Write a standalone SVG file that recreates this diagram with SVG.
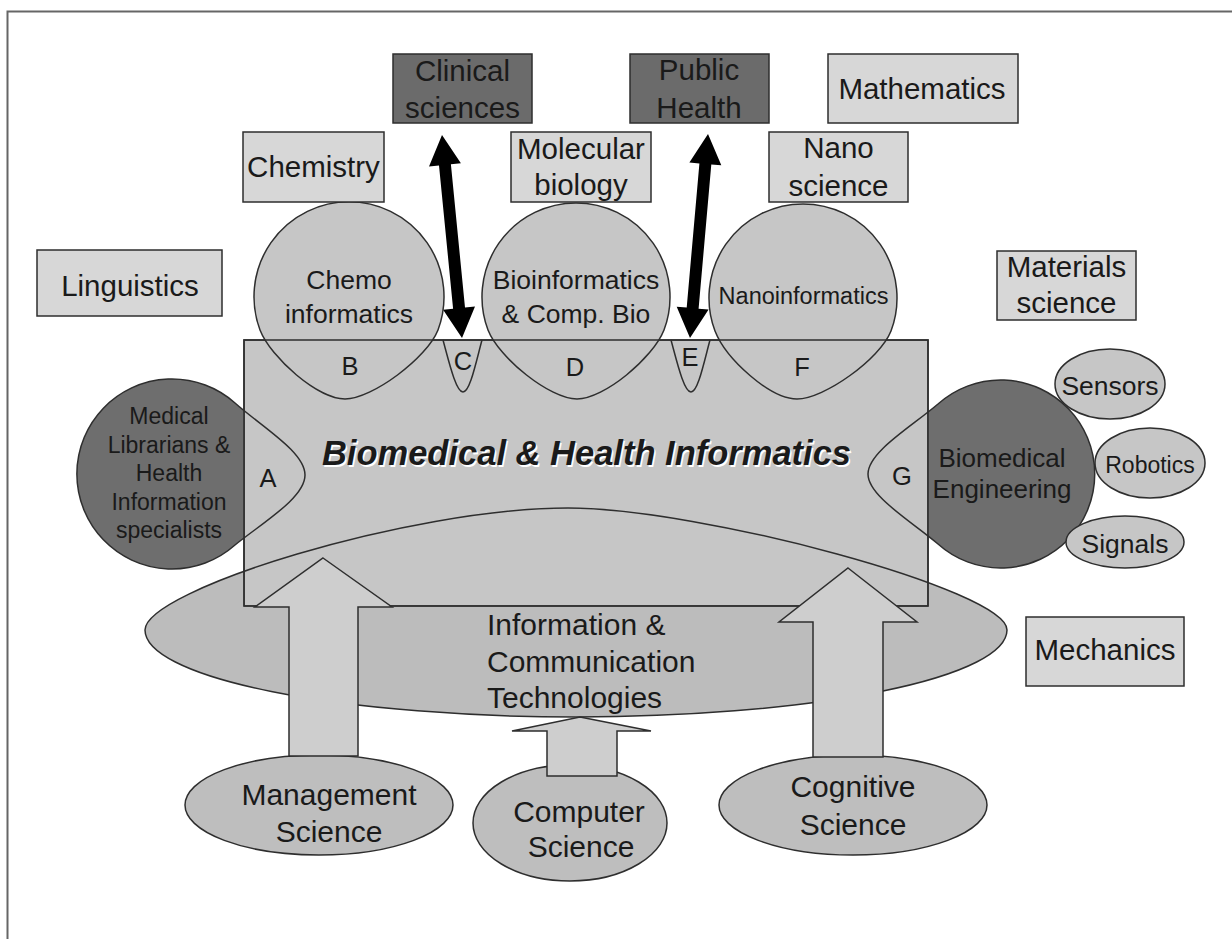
<svg xmlns="http://www.w3.org/2000/svg" width="1232" height="939" viewBox="0 0 1232 939">
<style>
text{font-family:"Liberation Sans",Arial,sans-serif;fill:#1a1a1a;text-anchor:middle}
.ln{fill:none;stroke:#2e2e2e;stroke-width:1.5}
.box{fill:#d7d7d7;stroke:#2e2e2e;stroke-width:1.5}
.dbox{fill:#6b6b6b;stroke:#2e2e2e;stroke-width:1.5}
.lt{fill:#c6c6c6;stroke:#2e2e2e;stroke-width:1.5}
.dkf{fill:#6e6e6e}
.ictf{fill:#bcbcbc}
.ell{fill:#bebebe;stroke:#2e2e2e;stroke-width:1.5}
.upa{fill:#cecece;stroke:#2e2e2e;stroke-width:1.5}
.blk{fill:#000}
.fb{font-size:29.5px}
.fe{font-size:30px}
.fc{font-size:26.5px}
.fl{font-size:25.5px}
.ttl{font-size:34.5px;font-weight:bold;font-style:italic}
</style>
<defs>
<clipPath id="outside"><path clip-rule="evenodd" d="M0 0H1232V939H0Z M243 339H929V607H243Z"/></clipPath>
<path id="ictShape" d="M145 630 C145 590 410 508 568 508 C700 508 1007 590 1007 630 A431 87 0 0 1 145 630 Z"/>
<path id="medShape" d="M235 403 C262 427 305 452 305 475 C305 498 262 523 235 545 A95 95 0 1 1 235 403 Z"/>
<path id="bmeShape" d="M938 404 C911 427 868 452 868 474 C868 496 911 521 938 544 A94 94 0 1 0 938 404 Z"/>
<rect id="bhiRect" x="244" y="340" width="684" height="266"/>
</defs>

<rect id="frame" x="7.5" y="11.5" width="1240" height="940" fill="none" stroke="#666" stroke-width="2"/>

<g id="bhi">
<use href="#bhiRect" class="lt"/>
<text x="588" y="466.5" class="ttl" style="fill:#fff">Biomedical &amp; Health Informatics</text>
<text x="586.5" y="465" class="ttl">Biomedical &amp; Health Informatics</text>
</g>

<g id="ict">
<use href="#ictShape" class="ictf" clip-path="url(#outside)"/>
<use href="#ictShape" class="ln"/>
<text class="fe" style="text-anchor:start" x="487" y="635">Information &amp;</text>
<text class="fe" style="text-anchor:start" x="487" y="672">Communication</text>
<text class="fe" style="text-anchor:start" x="487" y="708">Technologies</text>
</g>

<g id="medical-librarians">
<use href="#medShape" class="dkf" clip-path="url(#outside)"/>
<use href="#medShape" class="ln"/>
<text x="169" y="424" style="font-size:23px">Medical</text>
<text x="169" y="452.5" style="font-size:23px">Librarians &amp;</text>
<text x="169" y="481" style="font-size:23px">Health</text>
<text x="169" y="509.5" style="font-size:23px">Information</text>
<text x="169" y="538" style="font-size:23px">specialists</text>
<text x="268" y="487" class="fl">A</text>
</g>

<g id="biomedical-engineering">
<use href="#bmeShape" class="dkf" clip-path="url(#outside)"/>
<use href="#bmeShape" class="ln"/>
<text x="1002" y="467" style="font-size:26px">Biomedical</text>
<text x="1002" y="498" style="font-size:26px">Engineering</text>
<text x="902" y="485" class="fl">G</text>
</g>

<g id="chemoinformatics">
<path class="lt" d="M260 330 A95 95 0 1 1 438 330 C427 358 372 399 345 399 C318 399 271 358 260 330 Z"/>
<text x="349" y="289" class="fc">Chemo</text>
<text x="349" y="323" class="fc">informatics</text>
<text x="350" y="375" class="fl">B</text>
</g>

<g id="bioinformatics">
<path class="lt" d="M488 330 A94 94 0 1 1 664 330 C653 358 604 399 577 399 C550 399 499 358 488 330 Z"/>
<text x="576" y="289" class="fc">Bioinformatics</text>
<text x="576" y="323" class="fc">&amp; Comp. Bio</text>
<text x="575" y="376" class="fl">D</text>
</g>

<g id="nanoinformatics">
<path class="lt" d="M715 331 A94 94 0 1 1 891 331 C880 359 824 399 797 399 C770 399 726 359 715 331 Z"/>
<text x="803.5" y="304" style="font-size:23.5px">Nanoinformatics</text>
<text x="802" y="376" class="fl">F</text>
</g>

<use id="bhi-outline" href="#bhiRect" class="ln"/>

<g id="lobe-c">
<path class="ln" d="M443 340 C449 362 456 392 463 392 C470 392 476 362 482 340"/>
<text x="463" y="370" class="fl">C</text>
</g>

<g id="lobe-e">
<path class="ln" d="M671 340 C677 362 684 392 691 392 C698 392 704 362 710 340"/>
<text x="690" y="366" class="fl">E</text>
</g>

<g id="clinical-sciences">
<rect x="393" y="54" width="139" height="69" class="dbox"/>
<text x="462.5" y="81" class="fb">Clinical</text>
<text x="462.5" y="118" class="fb">sciences</text>
</g>
<g id="public-health">
<rect x="630" y="54" width="139" height="69" class="dbox"/>
<text x="699" y="80" class="fb">Public</text>
<text x="699" y="118" class="fb">Health</text>
</g>
<g id="mathematics">
<rect x="828" y="54" width="190" height="69" class="box"/>
<text x="922" y="99" class="fb">Mathematics</text>
</g>
<g id="chemistry">
<rect x="243" y="132" width="141" height="70" class="box"/>
<text x="313.5" y="177" class="fb">Chemistry</text>
</g>
<g id="molecular-biology">
<rect x="511" y="132" width="140" height="70" class="box"/>
<text x="581" y="159" class="fb">Molecular</text>
<text x="581" y="195" class="fb">biology</text>
</g>
<g id="nano-science">
<rect x="769" y="132" width="139" height="70" class="box"/>
<text x="838.5" y="158" class="fb">Nano</text>
<text x="838.5" y="196" class="fb">science</text>
</g>
<g id="linguistics">
<rect x="37" y="250" width="185" height="66" class="box"/>
<text x="130" y="296" class="fb">Linguistics</text>
</g>
<g id="materials-science">
<rect x="997" y="251" width="139" height="69" class="box"/>
<text x="1066.5" y="277" class="fb">Materials</text>
<text x="1066.5" y="313" class="fb">science</text>
</g>
<g id="mechanics">
<rect x="1026" y="617" width="158" height="69" class="box"/>
<text x="1105" y="660" class="fb">Mechanics</text>
</g>

<g id="sensors">
<ellipse cx="1110" cy="384" rx="55" ry="35" class="lt"/>
<text x="1110" y="395" style="font-size:26.5px">Sensors</text>
</g>
<g id="robotics">
<ellipse cx="1150" cy="463" rx="55" ry="35" class="lt"/>
<text x="1150" y="473" style="font-size:23px">Robotics</text>
</g>
<g id="signals">
<ellipse cx="1125" cy="542" rx="59" ry="26" class="lt"/>
<text x="1125" y="553" style="font-size:26.5px">Signals</text>
</g>

<g id="management-science">
<ellipse cx="319" cy="805" rx="134" ry="50" class="ell"/>
<text x="329" y="805" class="fe">Management</text>
<text x="329" y="842" class="fe">Science</text>
</g>
<g id="computer-science">
<ellipse cx="570" cy="823" rx="97" ry="58" class="ell"/>
<text x="579" y="822" class="fe">Computer</text>
<text x="581" y="857" class="fe">Science</text>
</g>
<g id="cognitive-science">
<ellipse cx="853" cy="805" rx="134" ry="50" class="ell"/>
<text x="853" y="797" class="fe">Cognitive</text>
<text x="853" y="835" class="fe">Science</text>
</g>

<g id="connectors">
<path class="upa" d="M323 558 L392 607 L358 607 L358 756 L289 756 L289 607 L255 607 Z"/>
<path class="upa" d="M580 717 L651 731 L617 731 L617 776 L547 776 L547 731 L512 731 Z"/>
<path class="upa" d="M848 568 L917 622 L883 622 L883 757 L813 757 L813 622 L779 622 Z"/>
<polygon class="blk" points="442,135 460.9,163.3 450.9,164.3 465,307.6 475,306.6 462,338 443.1,309.7 453.1,308.7 439,165.5 429,166.4"/>
<polygon class="blk" points="708,134 721.3,165.3 711.3,164.4 698.6,308.7 708.6,309.5 690,338 676.7,306.7 686.7,307.6 699.4,163.4 689.4,162.5"/>
</g>
</svg>
